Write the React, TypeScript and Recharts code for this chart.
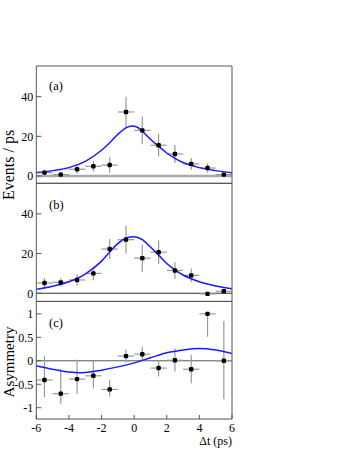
import { ComposedChart, XAxis, YAxis, Line, Scatter, ErrorBar, ReferenceLine } from 'recharts'

// bin centres (ps) shared by all three panels
const binCenters = [-5.5, -4.5, -3.5, -2.5, -1.5, -0.5, 0.5, 1.5, 2.5, 3.5, 4.5, 5.5]
const binHalfWidth = 0.5

// (a) events / ps
const eventsA = [1.7, 0.7, 3.4, 4.9, 5.5, 32.3, 23.0, 15.5, 11.1, 6.1, 4.0, 0.7]
const errA = [1.5, 1.0, 2.1, 2.6, 3.9, 7.7, 7.0, 5.7, 4.5, 3.0, 2.4, 1.2]
const fitAx = [-6, -5, -4, -3, -2, -1.5, -1, -0.5, -0.15, 0.2, 0.5, 1, 1.5, 2, 2.5, 3, 4, 5, 6]
const fitAy = [1.7, 2.7, 4.2, 7.4, 13.0, 16.8, 21.0, 24.3, 25.2, 24.6, 22.6, 18.5, 15.0, 11.6, 8.9, 6.8, 4.2, 2.7, 1.6]

// (b) events / ps
const eventsB = [5.2, 5.5, 6.7, 10.0, 22.3, 27.0, 17.7, 20.7, 11.5, 9.0, -0.3, 1.0]
const errB = [2.5, 2.1, 2.8, 3.5, 5.0, 7.0, 6.8, 6.0, 4.2, 3.5, 0.6, 1.4]
const fitBx = [-6, -5, -4, -3, -2, -1.5, -1, -0.5, 0, 0.5, 1, 1.5, 2, 2.5, 3, 4, 5, 6]
const fitBy = [2.0, 3.5, 5.8, 9.7, 16.2, 20.8, 25.0, 27.8, 28.5, 27.0, 23.3, 19.2, 15.0, 11.8, 9.2, 5.8, 3.7, 2.3]

// (c) asymmetry
const asym = [-0.41, -0.7, -0.39, -0.32, -0.61, 0.1, 0.14, -0.155, 0.01, -0.18, 1.0, 0.0]
const asymErrLow = [0.37, 0.22, 0.31, 0.27, 0.15, 0.14, 0.14, 0.18, 0.24, 0.3, 0.49, 0.82]
const asymErrHigh = [0.51, 0.52, 0.42, 0.32, 0.2, 0.14, 0.16, 0.17, 0.25, 0.31, 0, 0.85]
const fitCx = [-6, -5, -4, -3.3, -3, -2, -1, 0, 1, 2, 3, 3.9, 5, 6]
const fitCy = [-0.105, -0.18, -0.24, -0.255, -0.25, -0.2, -0.13, -0.045, 0.063, 0.17, 0.23, 0.26, 0.23, 0.155]

const xTicks = [-6, -4, -2, 0, 2, 4, 6]
const eventTicks = [0, 20, 40]
const asymTicks = [-1, -0.5, 0, 0.5, 1]

const W = 357
const H = 462
const LEFT = 36.3
const RIGHT = 232
const serif = "'Liberation Serif', 'Times New Roman', serif"
const frame = '#555'
const errColor = '#999'
const fitColor = '#1a1aff'

const tickFont = { fill: '#000', fontSize: 12, fontFamily: serif }

const points = (ys: number[], errs: (number | number[])[]) =>
  binCenters.map((x, i) => ({ x, y: ys[i], xe: binHalfWidth, ye: errs[i] }))

const curve = (xs: number[], ys: number[]) => xs.map((x, i) => ({ x, y: ys[i] }))

const dot = (p: any) => <rect x={p.cx - 2.2} y={p.cy - 2.2} width={4.4} height={4.4} rx={1.2} fill='#000' />

type PanelProps = {
  top: number
  bottom: number
  domain: [number, number]
  yTicks: number[]
  pts: any[]
  fit: any[]
  zero: { stroke: string; width: number }
  showX?: boolean
}

// axes are 1px thick so they still render; margins make up the difference
function Panel({ top, bottom, domain, yTicks, pts, fit, zero, showX }: PanelProps) {
  return (
    <div style={{ position: 'absolute', left: 0, top: 0 }}>
      <ComposedChart
        width={W}
        height={H}
        margin={{ top: top - 1, bottom: H - bottom - 1, left: LEFT - 1, right: W - RIGHT - 1 }}
      >
        <XAxis
          type='number'
          dataKey='x'
          domain={[-6, 6]}
          ticks={xTicks}
          allowDataOverflow
          height={1}
          tickSize={-4}
          tickMargin={8}
          stroke={frame}
          tick={showX ? tickFont : false}
        />
        <XAxis
          xAxisId='top'
          orientation='top'
          type='number'
          dataKey='x'
          domain={[-6, 6]}
          ticks={xTicks}
          allowDataOverflow
          height={1}
          tickSize={-4}
          stroke={frame}
          tick={false}
        />
        <YAxis
          type='number'
          domain={domain}
          ticks={yTicks}
          allowDataOverflow
          width={1}
          tickSize={-5}
          tickMargin={8}
          stroke={frame}
          tick={tickFont}
        />
        <YAxis
          yAxisId='r'
          orientation='right'
          type='number'
          domain={domain}
          ticks={yTicks}
          allowDataOverflow
          width={1}
          tickSize={-5}
          stroke={frame}
          tick={false}
        />
        <ReferenceLine y={0} stroke={zero.stroke} strokeWidth={zero.width} />
        <Scatter data={pts} dataKey='y' shape={dot} isAnimationActive={false}>
          <ErrorBar dataKey='xe' direction='x' width={0} stroke={errColor} strokeWidth={1.2} />
          <ErrorBar dataKey='ye' direction='y' width={0} stroke={errColor} strokeWidth={1.2} />
        </Scatter>
        <Line
          data={fit}
          dataKey='y'
          type='monotone'
          dot={false}
          stroke={fitColor}
          strokeWidth={1.5}
          isAnimationActive={false}
        />
      </ComposedChart>
    </div>
  )
}

export default function App() {
  const asymErr = asymErrLow.map((lo, i) => [lo, asymErrHigh[i]])
  return (
    <div style={{ position: 'absolute', left: 0, top: 0, width: W, height: H, background: '#fff' }}>
      <Panel
        top={66}
        bottom={183.3}
        domain={[-3.7, 55.5]}
        yTicks={eventTicks}
        pts={points(eventsA, errA)}
        fit={curve(fitAx, fitAy)}
        zero={{ stroke: '#aaa', width: 2.5 }}
      />
      <Panel
        top={183.3}
        bottom={301.4}
        domain={[-4.1, 55.4]}
        yTicks={eventTicks}
        pts={points(eventsB, errB)}
        fit={curve(fitBx, fitBy)}
        zero={{ stroke: '#333', width: 1 }}
      />
      <Panel
        top={301.4}
        bottom={419}
        domain={[-1.24, 1.265]}
        yTicks={asymTicks}
        pts={points(asym, asymErr)}
        fit={curve(fitCx, fitCy)}
        zero={{ stroke: '#555', width: 1 }}
        showX
      />
      <svg
        width={W}
        height={H}
        style={{ position: 'absolute', left: 0, top: 0, pointerEvents: 'none', fontFamily: serif }}
      >
        <text x={49} y={90} fontSize={12.5}>(a)</text>
        <text x={49} y={209} fontSize={12.5}>(b)</text>
        <text x={49} y={327} fontSize={12.5}>(c)</text>
        <text transform='translate(14,165) rotate(-90)' textAnchor='middle' fontSize={16}>
          Events / ps
        </text>
        <text transform='translate(13.5,362) rotate(-90)' textAnchor='middle' fontSize={15}>
          Asymmetry
        </text>
        <text x={232} y={445} textAnchor='end' fontSize={12}>Δt (ps)</text>
      </svg>
    </div>
  )
}
